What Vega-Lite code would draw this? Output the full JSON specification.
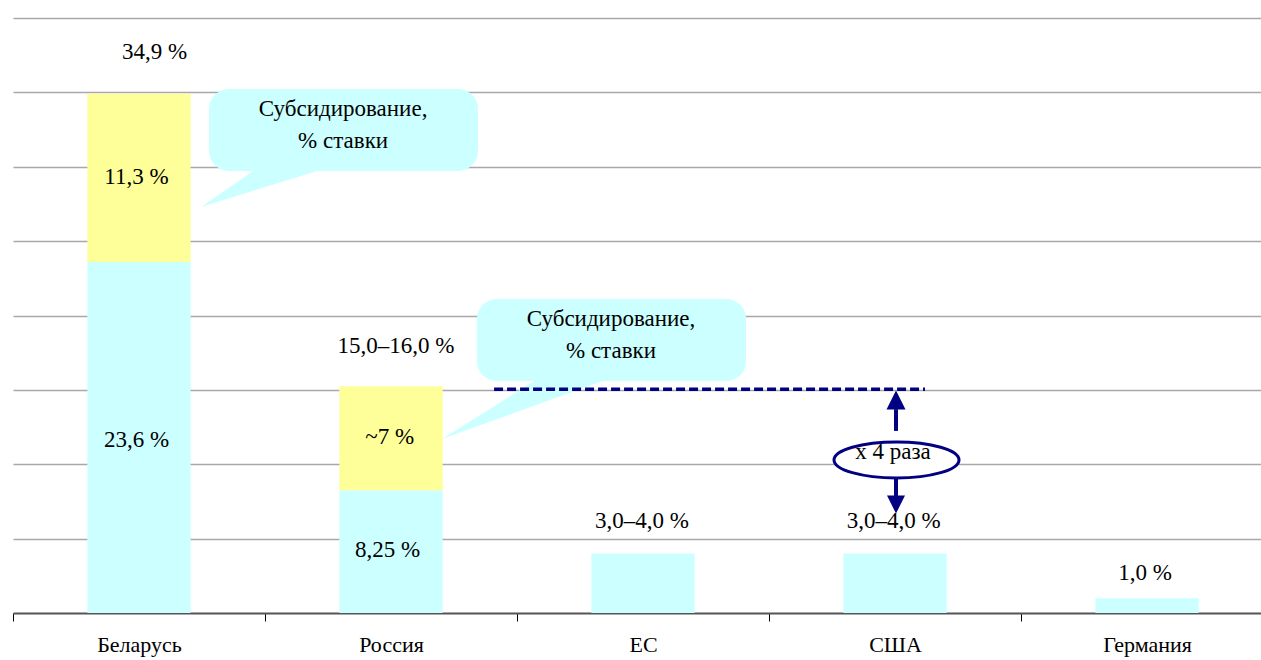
{
  "$schema": "https://vega.github.io/schema/vega-lite/v6.json",
  "width": 1248,
  "height": 595,
  "autosize": "none",
  "padding": {"left": 13, "top": 18, "right": 0, "bottom": 47},
  "background": "white",
  "config": {"view": {"stroke": null}, "text": {"font": "'Liberation Serif', 'Times New Roman', 'DejaVu Serif', serif", "fontSize": 23, "color": "#000000"}},
  "datasets": {
    "bars": [
      {"country": "Беларусь", "part": "base", "value": 23.6},
      {"country": "Беларусь", "part": "subsidy", "value": 11.3},
      {"country": "Россия", "part": "base", "value": 8.25},
      {"country": "Россия", "part": "subsidy", "value": 7.0},
      {"country": "ЕС", "part": "base", "value": 4.0},
      {"country": "США", "part": "base", "value": 4.0},
      {"country": "Германия", "part": "base", "value": 1.0}
    ],
    "tails": [
      {"tail": 1, "ax": 0.746, "y": 27.29, "y2": 27.29},
      {"tail": 1, "ax": 0.998, "y": 30.25, "y2": 28.62},
      {"tail": 1, "ax": 1.309, "y": 30.25, "y2": 30.25},
      {"tail": 2, "ax": 1.702, "y": 11.70, "y2": 11.70},
      {"tail": 2, "ax": 2.125, "y": 16.20, "y2": 14.28},
      {"tail": 2, "ax": 2.440, "y": 16.20, "y2": 16.20}
    ],
    "bubbles": [
      {"ax": 0.778, "ax2": 1.845, "y": 35.23, "y2": 29.71},
      {"ax": 1.841, "ax2": 2.909, "y": 21.11, "y2": 15.60}
    ],
    "bubbleText": [
      {"ax": 1.310, "y": 33.88, "text": "Субсидирование,"},
      {"ax": 1.310, "y": 31.73, "text": "% ставки"},
      {"ax": 2.373, "y": 19.76, "text": "Субсидирование,"},
      {"ax": 2.373, "y": 17.61, "text": "% ставки"}
    ],
    "dashed": [{"ax": 1.909, "ax2": 3.619, "y": 15.05}],
    "shafts": [
      {"ax": 3.504, "y": 12.24, "y2": 13.70},
      {"ax": 3.504, "y": 7.80, "y2": 9.34}
    ],
    "headUp": [{"ax": 3.504, "y": 14.32}],
    "headDown": [{"ax": 3.504, "y": 7.29}],
    "ellipse": [{"ax": 3.506, "y": 10.29}],
    "ellipseText": [{"ax": 3.492, "y": 10.82, "text": "х 4 раза"}],
    "labels": [
      {"ax": 0.5615, "y": 37.71, "text": "34,9 %"},
      {"ax": 0.49, "y": 29.33, "text": "11,3 %"},
      {"ax": 0.49, "y": 11.63, "text": "23,6 %"},
      {"ax": 1.52, "y": 17.95, "text": "15,0–16,0 %"},
      {"ax": 1.495, "y": 11.80, "text": "~7 %"},
      {"ax": 1.486, "y": 4.24, "text": "8,25 %"},
      {"ax": 2.496, "y": 6.18, "text": "3,0–4,0 %"},
      {"ax": 3.495, "y": 6.18, "text": "3,0–4,0 %"},
      {"ax": 4.492, "y": 2.72, "text": "1,0 %"}
    ]
  },
  "resolve": {"scale": {"x": "independent"}},
  "layer": [
    {
      "data": {"name": "bars"},
      "mark": {"type": "bar", "width": {"band": 0.41}},
      "encoding": {
        "x": {
          "field": "country", "type": "nominal",
          "sort": ["Беларусь", "Россия", "ЕС", "США", "Германия"],
          "scale": {"range": [0, 1260], "paddingInner": 0, "paddingOuter": 0},
          "axis": {
            "title": null, "labelAngle": 0, "tickBand": "extent",
            "labelFont": "'Liberation Serif', 'Times New Roman', 'DejaVu Serif', serif", "labelFontSize": 22, "labelColor": "#000000",
            "labelPadding": 13, "tickSize": 8, "tickColor": "#000000", "tickWidth": 1,
            "domainColor": "#555555", "domainWidth": 2, "grid": false
          }
        },
        "y": {
          "field": "value", "type": "quantitative", "stack": "zero",
          "scale": {"domain": [0, 40], "nice": false},
          "axis": {
            "title": null, "values": [5, 10, 15, 20, 25, 30, 35, 40], "grid": true,
            "gridColor": "#A8A8A8", "gridWidth": 1.5, "labels": false, "ticks": false, "domain": false
          }
        },
        "color": {
          "field": "part", "type": "nominal",
          "scale": {"domain": ["base", "subsidy"], "range": ["#CCFFFF", "#FFFF99"]},
          "legend": null
        },
        "order": {"field": "part", "sort": "ascending"}
      }
    },
    {
      "data": {"name": "tails"},
      "mark": {"type": "area", "color": "#CCFFFF", "opacity": 1, "interpolate": "linear"},
      "encoding": {
        "x": {"field": "ax", "type": "quantitative", "scale": {"domain": [0, 5], "range": [0, 1260], "nice": false, "zero": false}, "axis": null},
        "y": {"field": "y", "type": "quantitative", "stack": null},
        "y2": {"field": "y2"},
        "detail": {"field": "tail", "type": "nominal"}
      }
    },
    {
      "data": {"name": "bubbles"},
      "mark": {"type": "rect", "color": "#CCFFFF", "cornerRadius": 20},
      "encoding": {
        "x": {"field": "ax", "type": "quantitative", "scale": {"domain": [0, 5], "range": [0, 1260], "nice": false, "zero": false}, "axis": null},
        "x2": {"field": "ax2"},
        "y": {"field": "y", "type": "quantitative"},
        "y2": {"field": "y2"}
      }
    },
    {
      "data": {"name": "dashed"},
      "mark": {"type": "rule", "color": "#000080", "strokeWidth": 3.5, "strokeDash": [9, 4]},
      "encoding": {
        "x": {"field": "ax", "type": "quantitative", "scale": {"domain": [0, 5], "range": [0, 1260], "nice": false, "zero": false}, "axis": null},
        "x2": {"field": "ax2"},
        "y": {"field": "y", "type": "quantitative"}
      }
    },
    {
      "data": {"name": "bubbleText"},
      "mark": {"type": "text", "baseline": "middle", "align": "center"},
      "encoding": {
        "x": {"field": "ax", "type": "quantitative", "scale": {"domain": [0, 5], "range": [0, 1260], "nice": false, "zero": false}, "axis": null},
        "y": {"field": "y", "type": "quantitative"},
        "text": {"field": "text"}
      }
    },
    {
      "data": {"name": "shafts"},
      "mark": {"type": "rule", "color": "#000080", "strokeWidth": 4},
      "encoding": {
        "x": {"field": "ax", "type": "quantitative", "scale": {"domain": [0, 5], "range": [0, 1260], "nice": false, "zero": false}, "axis": null},
        "y": {"field": "y", "type": "quantitative"},
        "y2": {"field": "y2"}
      }
    },
    {
      "data": {"name": "headUp"},
      "mark": {"type": "point", "shape": "M0,-1L1,1L-1,1Z", "size": 361, "filled": true, "color": "#000080", "opacity": 1},
      "encoding": {
        "x": {"field": "ax", "type": "quantitative", "scale": {"domain": [0, 5], "range": [0, 1260], "nice": false, "zero": false}, "axis": null},
        "y": {"field": "y", "type": "quantitative"}
      }
    },
    {
      "data": {"name": "headDown"},
      "mark": {"type": "point", "shape": "M-1,-1L1,-1L0,1Z", "size": 324, "filled": true, "color": "#000080", "opacity": 1},
      "encoding": {
        "x": {"field": "ax", "type": "quantitative", "scale": {"domain": [0, 5], "range": [0, 1260], "nice": false, "zero": false}, "axis": null},
        "y": {"field": "y", "type": "quantitative"}
      }
    },
    {
      "data": {"name": "ellipse"},
      "mark": {"type": "point", "shape": "M-1,0A1,0.288,0,1,1,1,0A1,0.288,0,1,1,-1,0Z", "size": 15625, "filled": false, "fill": "#FFFFFF", "fillOpacity": 1, "stroke": "#000080", "strokeWidth": 3, "opacity": 1},
      "encoding": {
        "x": {"field": "ax", "type": "quantitative", "scale": {"domain": [0, 5], "range": [0, 1260], "nice": false, "zero": false}, "axis": null},
        "y": {"field": "y", "type": "quantitative"}
      }
    },
    {
      "data": {"name": "ellipseText"},
      "mark": {"type": "text", "baseline": "middle", "align": "center"},
      "encoding": {
        "x": {"field": "ax", "type": "quantitative", "scale": {"domain": [0, 5], "range": [0, 1260], "nice": false, "zero": false}, "axis": null},
        "y": {"field": "y", "type": "quantitative"},
        "text": {"field": "text"}
      }
    },
    {
      "data": {"name": "labels"},
      "mark": {"type": "text", "baseline": "middle", "align": "center"},
      "encoding": {
        "x": {"field": "ax", "type": "quantitative", "scale": {"domain": [0, 5], "range": [0, 1260], "nice": false, "zero": false}, "axis": null},
        "y": {"field": "y", "type": "quantitative"},
        "text": {"field": "text"}
      }
    }
  ]
}
